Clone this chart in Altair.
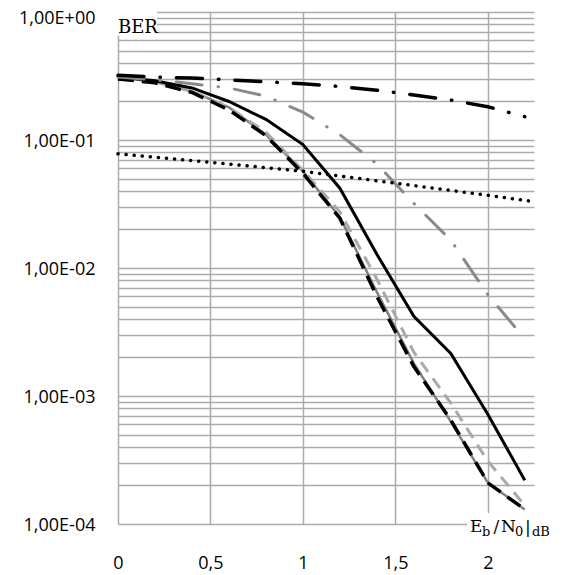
import altair as alt
import pandas as pd

# ---- data ----
snr = [0.0, 0.2, 0.4, 0.6, 0.8, 1.0, 1.2, 1.4, 1.6, 1.8, 2.0, 2.2]
ber_black_dashdot = [0.32, 0.31, 0.305, 0.295, 0.285, 0.275, 0.262, 0.245, 0.225, 0.205, 0.182, 0.152]
ber_gray_dashdot = [0.31, 0.295, 0.275, 0.255, 0.22, 0.165, 0.11, 0.065, 0.032, 0.0165, 0.0062, 0.0028]
ber_black_solid = [0.31, 0.29, 0.255, 0.20, 0.145, 0.092, 0.042, 0.0128, 0.0042, 0.00215, 0.00072, 0.00022]
ber_gray_solid = [0.31, 0.285, 0.24, 0.18, 0.11, 0.057, 0.025, 0.0065, 0.0018, 0.00063, 0.00021, 0.00013]
ber_black_dashed = [0.30, 0.28, 0.235, 0.172, 0.108, 0.055, 0.0245, 0.006, 0.0017, 0.00065, 0.00021, 0.00013]
ber_lgray_dashed = [0.31, 0.285, 0.24, 0.18, 0.115, 0.058, 0.0275, 0.0082, 0.0022, 0.00088, 0.00031, 0.00014]

snr_dotted = [0.0, 0.5, 1.0, 1.5, 2.0, 2.25]
ber_dotted = [0.078, 0.067, 0.057, 0.046, 0.037, 0.033]

x_ticks = [0, 0.5, 1, 1.5, 2]
y_exponents = [-4, -3, -2, -1]
y_mult = [1, 2, 3, 4, 5, 6, 7, 8, 9]
y_ticks = [m * 10.0 ** e for e in y_exponents for m in y_mult] + [1.0]

GRID = "#ababab"

x_scale = alt.Scale(domain=[0, 2.25], nice=False, zero=False)
y_scale = alt.Scale(type="log", domain=[1e-4, 1], nice=False)

x_axis = alt.Axis(
    values=x_ticks,
    labelExpr="replace(toString(datum.value), '.', ',')",
    grid=True, gridColor=GRID, gridWidth=1.5,
    ticks=False, domain=False,
    labelFont="Open Sans", labelFontSize=18, labelColor="#000",
    labelPadding=30, labelFlush=False, title=None,
)
y_label_expr = (
    "abs(log(datum.value)/LN10 - round(log(datum.value)/LN10)) < 1e-6 ? "
    "'1,00E' + (round(log(datum.value)/LN10) < 0 ? '-' : '+') + '0' + "
    "abs(round(log(datum.value)/LN10)) : ''"
)
y_axis = alt.Axis(
    values=y_ticks,
    labelExpr=y_label_expr,
    grid=True, gridColor=GRID, gridWidth=1.5,
    ticks=False, domain=False,
    labelFont="Open Sans", labelFontSize=18, labelColor="#000",
    labelPadding=23, labelFlush=False, labelOverlap=False, title=None,
    labelOffset={"condition": {"test": "datum.value > 0.99", "value": 6}, "value": 1},
)


def series(xs, ys, **mark):
    df = pd.DataFrame({"x": xs, "y": ys})
    return alt.Chart(df).mark_line(**mark).encode(
        x=alt.X("x:Q", scale=x_scale, axis=x_axis),
        y=alt.Y("y:Q", scale=y_scale, axis=y_axis),
    )


layers = [
    series(snr, ber_gray_solid, color="#7f7f7f", strokeWidth=2.5),
    series(snr, ber_lgray_dashed, color="#a9a9a9", strokeWidth=3, strokeDash=[12, 8]),
    series(snr, ber_black_dashed, color="#000000", strokeWidth=3.5, strokeDash=[16, 8]),
    series(snr, ber_black_solid, color="#000000", strokeWidth=3),
    series(snr, ber_gray_dashdot, color="#8a8a8a", strokeWidth=3,
           strokeDash=[26, 16, 0.5, 16], strokeCap="round"),
    series(snr, ber_black_dashdot, color="#000000", strokeWidth=3.5,
           strokeDash=[26, 16, 0.5, 16], strokeCap="round"),
    series(snr_dotted, ber_dotted, color="#000000", strokeWidth=3.5,
           strokeDash=[0.1, 8], strokeCap="round"),
]

one = pd.DataFrame({"k": [0]})

# label boxes (white background behind axis titles)
ber_box = alt.Chart(one).mark_rect(color="white").encode(
    x=alt.value(-3), x2=alt.value(39), y=alt.value(-12), y2=alt.value(24))
snr_box = alt.Chart(one).mark_rect(color="white").encode(
    x=alt.value(349), x2=alt.value(440), y=alt.value(501), y2=alt.value(535))

SERIF = "DejaVu Serif"


def label(txt, x, y, size):
    return alt.Chart(pd.DataFrame({"t": [txt]})).mark_text(
        font=SERIF, fontSize=size, color="#000", align="left", baseline="alphabetic"
    ).encode(text="t:N", x=alt.value(x), y=alt.value(y))


title_parts = [
    label("BER", 0, 21, 18),
    label("E", 352, 520, 17),
    label("b", 364, 524, 13),
    label("/", 375.5, 520, 17),
    label("N", 383, 520, 17),
    label("0", 397, 524, 13),
    label("|", 407, 521, 17),
    label("dB", 414, 524, 13),
]

chart = alt.layer(*layers, ber_box, snr_box, *title_parts).properties(
    width=416,
    height=512,
    padding={"left": 110, "top": 4, "right": 20, "bottom": 52},
    autosize=alt.AutoSizeParams(type="none"),
).configure_view(strokeWidth=0)

chart.save("out.html", embed_options={"renderer": "svg", "actions": False})
